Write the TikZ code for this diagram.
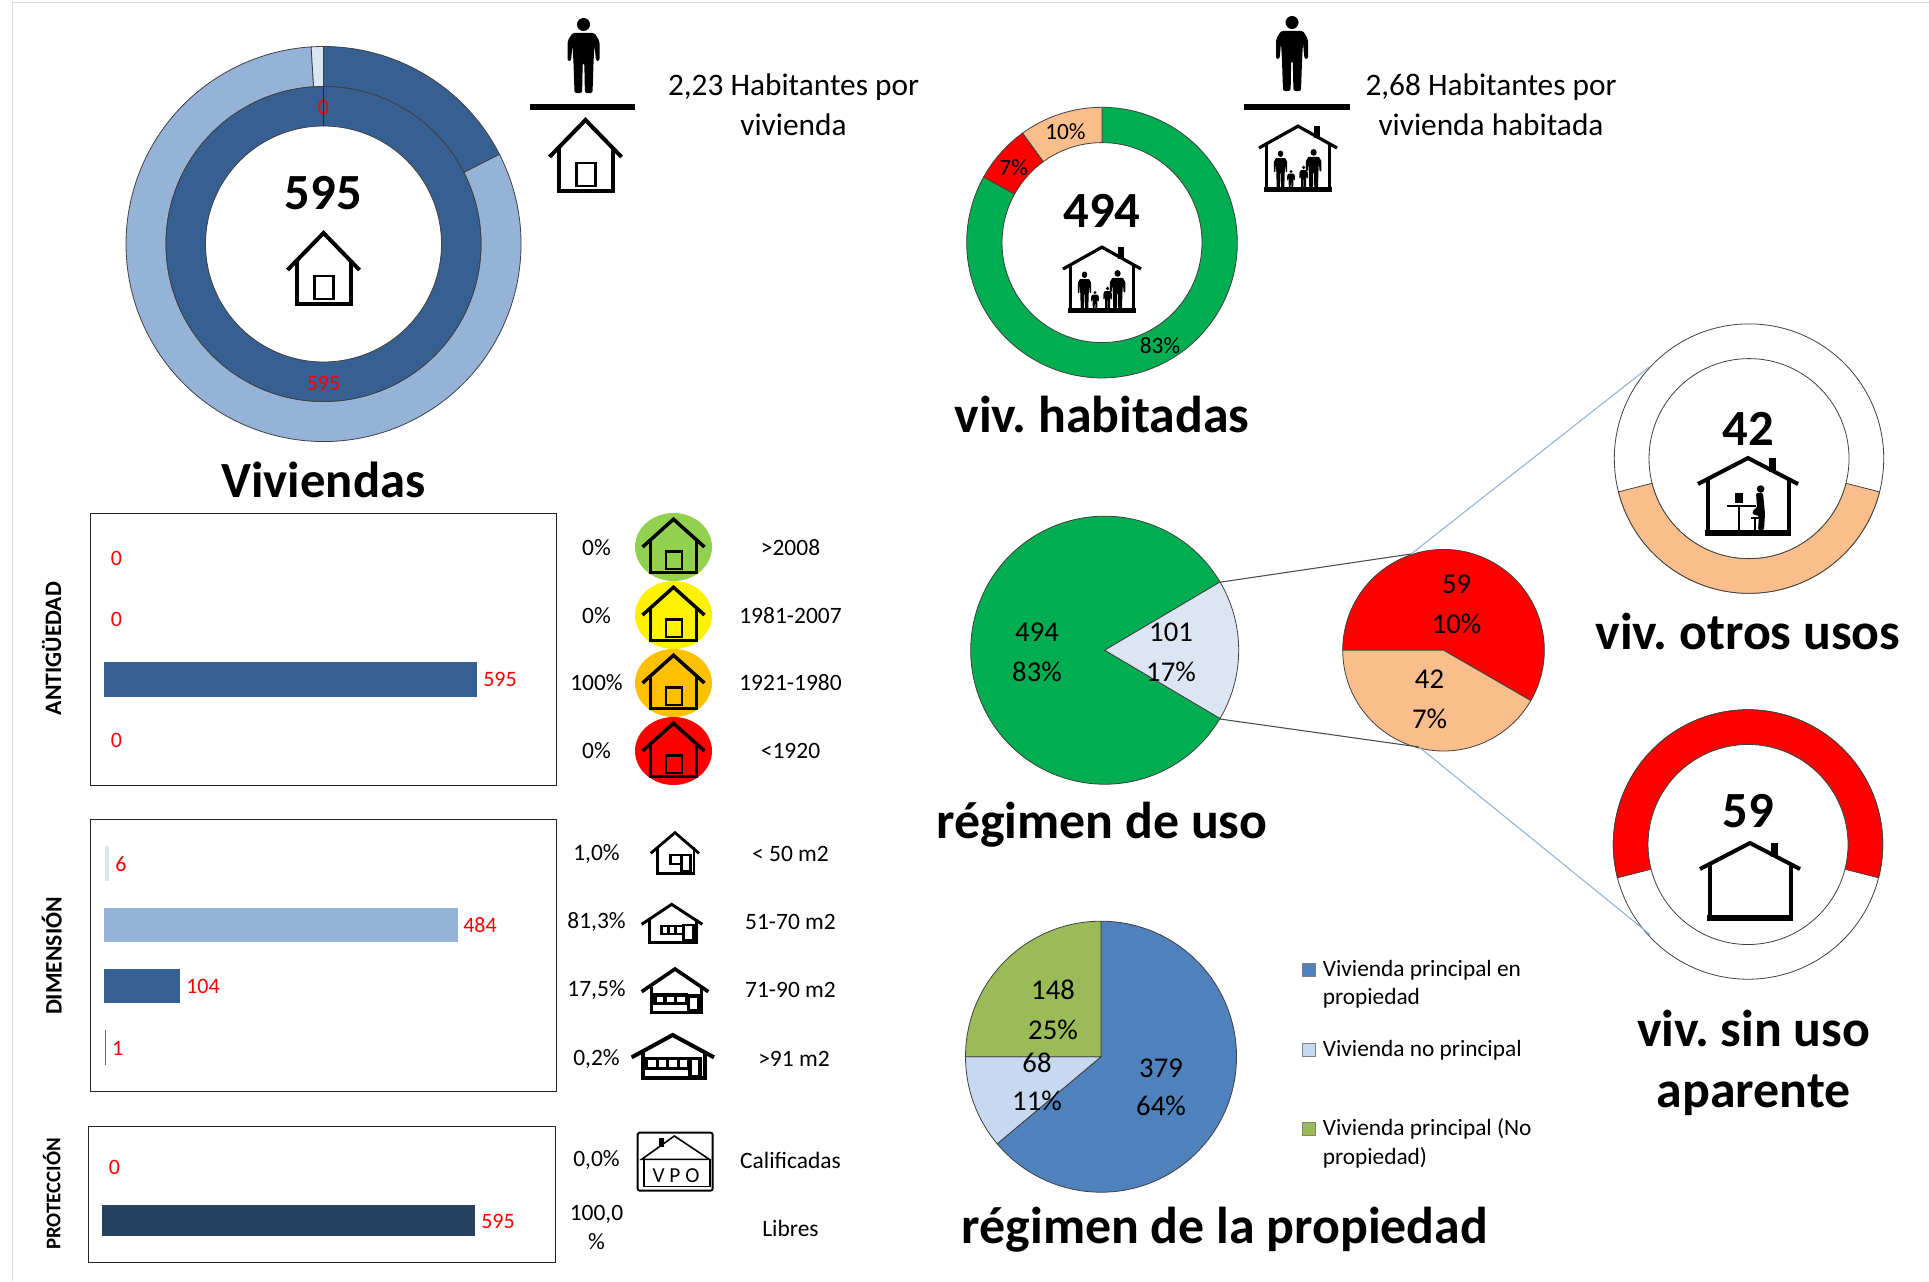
\documentclass[tikz,border=0pt]{standalone}
\usepackage{fontspec}
\setmainfont{Carlito}
\frenchspacing
\definecolor{darkblue}{HTML}{376092}
\definecolor{midblue}{HTML}{95B3D7}
\definecolor{paleblue}{HTML}{DCE6F2}
\definecolor{navybar}{HTML}{254061}
\definecolor{grassgreen}{HTML}{00AD50}
\definecolor{peach}{HTML}{F9BE8C}
\definecolor{ownblue}{HTML}{4F81BD}
\definecolor{ownpale}{HTML}{C6D9F1}
\definecolor{ownolive}{HTML}{9BBB59}
\definecolor{labelred}{HTML}{FF0000}
\definecolor{agegreen}{HTML}{92D050}
\definecolor{ageorange}{HTML}{FFC000}
\newcommand{\ringsector}[7]{%
  \path[ringedge,fill=#1] ([shift={(#6:#4)}]#2,#3) arc[start angle=#6,end angle=#7,radius=#4]
    -- ([shift={(#7:#5)}]#2,#3) arc[start angle=#7,end angle=#6,radius=#5] -- cycle;}
\newcommand{\pieslice}[6]{%
  \path[ringedge,fill=#1] (#2,#3) -- ([shift={(#5:#4)}]#2,#3) arc[start angle=#5,end angle=#6,radius=#4] -- cycle;}
\newcommand{\figureglyph}{%
  \fill (0,68.5) circle[radius=6.5];
  \fill[rounded corners=1.6pt] (-11,60) -- (11,60) -- (16,52) -- (16,32) -- (12.5,32) -- (11,48) -- (10,30) -- (9,0) -- (1.4,0) -- (0.8,30) -- (-0.8,30) -- (-1.4,0) -- (-9,0) -- (-10,30) -- (-11,48) -- (-12.5,32) -- (-16,32) -- (-16,52) -- cycle;}
\newcommand{\tinyfigure}[3]{%
  \begin{scope}[shift={(#1,-40)},xscale=#2,yscale=#3]
    \fill (0,68.5) circle[radius=6.5];
    \fill[rounded corners=0.5pt] (-11,60) -- (11,60) -- (16,52) -- (16,32) -- (12.5,32) -- (11,48) -- (10,30) -- (9,0) -- (1.4,0) -- (0.8,30) -- (-0.8,30) -- (-1.4,0) -- (-9,0) -- (-10,30) -- (-11,48) -- (-12.5,32) -- (-16,32) -- (-16,52) -- cycle;
  \end{scope}}
\newcommand{\familygroup}{%
  \tinyfigure{-17.5}{.42}{.5}
  \tinyfigure{-7}{.24}{.24}
  \tinyfigure{5.6}{.26}{.3}
  \tinyfigure{15.6}{.48}{.52}}
\tikzset{
  x=0.75pt,y=0.75pt,
  hlw/.store in=\hlw, hlw=3pt,
  ringedge/.style={draw=black!75,line width=0.6pt},
  headline/.style={font=\bfseries\fontsize{38}{44}\selectfont,inner sep=0pt},
  subhead/.style={font=\bfseries\fontsize{38.9}{46}\selectfont,inner sep=0pt},
  bodytext/.style={font=\fontsize{23.5}{28}\selectfont,inner sep=0pt},
  smalltext/.style={font=\fontsize{17.6}{21}\selectfont,inner sep=0pt},
  pielabel/.style={font=\fontsize{21.5}{25}\selectfont,inner sep=0pt},
  ringlabel/.style={font=\fontsize{17.5}{21}\selectfont,inner sep=0pt},
  redlabel/.style={font=\fontsize{16.5}{20}\selectfont,text=labelred,inner sep=0pt},
  sidelabel/.style={font=\bfseries\fontsize{17.7}{21}\selectfont,rotate=90,inner sep=0pt},
  legendtext/.style={font=\fontsize{17.5}{21}\selectfont,anchor=west,inner sep=0pt},
  panelbox/.style={draw=black!85,line width=0.6pt},
  legendbox/.style={draw=black!50,line width=0.4pt},
  plainhouse/.pic={
    \draw[line width=\hlw,line join=miter] (-36,0) -- (0,37) -- (36,0);
    \draw[line width=\hlw,line join=miter] (-27,9) -- (-27,-34) -- (27,-34) -- (27,9);
    \draw[line width=0.65*\hlw,line join=miter] (-9,-29) rectangle (10,-6);
  },
  shellhouse/.pic={
    \draw[line width=\hlw,line join=miter] (-50,0) -- (0,26) -- (50,0);
    \fill (21,12) rectangle (28,26);
    \draw[line width=\hlw] (-40.5,5) -- (-40.5,-51) (40.5,5) -- (40.5,-51);
    \fill (-43,-46) rectangle (43,-52);
  },
  singlefigure/.pic={\figureglyph},
  deskfigure/.pic={
    \draw[line width=1.2pt] (-21,-22) -- (8,-22) (-9,-22) -- (-9,-47);
    \fill (-13,-19) rectangle (-5,-9);
    \fill (12.6,-5) circle[radius=3.8];
    \fill[rounded corners=1pt] (8,-9) -- (15,-9) -- (17,-30) -- (16,-46) -- (10,-46) -- (11,-32) -- (4,-30) -- (6,-25) -- (9,-24) -- cycle;
    \draw[line width=1pt] (7,-34) -- (7,-47) (3,-34) -- (12,-34);
  },
}
\begin{document}
\begin{tikzpicture}
\useasboundingbox (0,0) rectangle (1929,-1281);
\fill[white] (0,0) rectangle (1929,-1281);
\draw[black!15,line width=1pt] (12.5,-1281) -- (12.5,-2.5) -- (1929,-2.5);

% Viviendas donut
\ringsector{darkblue}{323.5}{-244}{197.5}{157.5}{90}{27}
\ringsector{midblue}{323.5}{-244}{197.5}{157.5}{27}{-266.4}
\ringsector{paleblue}{323.5}{-244}{197.5}{157.5}{-266.4}{-270}
\ringsector{darkblue}{323.5}{-244}{157.5}{118}{90}{-270}
\node[redlabel] (vring0) at (323.5,-107) {0};
\draw[black!85,line width=0.8pt] (323.5,-86.5) -- (323.5,-126);
\node[redlabel] (vring595) at (323.5,-383) {595};
\node[headline] (vtotal) at (323.5,-193) {595};
\pic at (323.5,-270) {plainhouse};
\node[headline] (vtitle) at (323.5,-480) {Viviendas};

% ratio 1
\pic at (583.5,-93) {singlefigure};
\draw[line width=4.5pt] (530,-107) -- (635,-107);
\pic at (585.5,-157) {plainhouse};
\node[bodytext] (r1a) at (793.5,-87.5) {2,23 Habitantes por};
\node[bodytext] (r1b) at (793.5,-125) {vivienda};

% ratio 2
\pic at (1292,-91) {singlefigure};
\draw[line width=4.5pt] (1244,-107) -- (1350,-107);
\pic[xscale=.78,yscale=.84,hlw=2.4pt] at (1298,-148) {shellhouse};
\begin{scope}[shift={(1298,-148)}]\familygroup\end{scope}
\node[bodytext] (r2a) at (1491,-87.5) {2,68 Habitantes por};
\node[bodytext] (r2b) at (1491,-125) {vivienda habitada};

% habitadas donut
\ringsector{grassgreen}{1102}{-242.6}{135.3}{100}{151}{450}
\ringsector{peach}{1102}{-242.6}{135.3}{100}{90}{126}
\ringsector{labelred}{1102}{-242.6}{135.3}{100}{126}{151}
\node[ringlabel] (h10) at (1065.4,-131.6) {10\%};
\node[ringlabel] (h7) at (1013.7,-167.3) {7\%};
\node[ringlabel] (h83) at (1160,-345.7) {83\%};
\node[headline] (htotal) at (1102,-211) {494};
\pic[xscale=.78,yscale=.84,hlw=2.4pt] at (1102,-269) {shellhouse};
\begin{scope}[shift={(1102,-269)}]\familygroup\end{scope}
\node[subhead] (htitle) at (1102,-414) {viv. habitadas};

% connectors (drawn beneath pies)
\coordinate (useTop) at (1218.7,-582.4);
\coordinate (useBot) at (1220,-719);
\coordinate (subTop) at (1411,-554);
\coordinate (subBot) at (1419,-747);
\coordinate (otherEnd) at (1649,-367);
\coordinate (emptyEnd) at (1650,-934.5);

% uso pie
\pieslice{grassgreen}{1104.7}{-650.2}{134}{30.6}{329.4}
\pieslice{paleblue}{1104.7}{-650.2}{134}{-30.6}{30.6}
\node[pielabel] (u494) at (1037,-632.3) {494};
\node[pielabel] (u83) at (1037,-671.7) {83\%};
\node[pielabel] (u101) at (1171,-632.3) {101};
\node[pielabel] (u17) at (1171,-671.7) {17\%};
\node[subhead] (utitle) at (1102,-825) {régimen de uso};

% small pie
\pieslice{labelred}{1443.5}{-650.2}{100.8}{-30}{180}
\pieslice{peach}{1443.5}{-650.2}{100.8}{180}{330}
\node[pielabel] (s59) at (1456.6,-584.4) {59};
\node[pielabel] (s10) at (1456.6,-623.7) {10\%};
\node[pielabel] (s42) at (1429.5,-679) {42};
\node[pielabel] (s7) at (1429.5,-718.4) {7\%};

\draw[black!70,line width=0.8pt] (useTop) -- (subTop);
\draw[black!70,line width=0.8pt] (useBot) -- (subBot);

% otros usos ring
\draw[ringedge,fill=white] (1749,-458.6) circle[radius=134.7];
\ringsector{peach}{1749}{-458.6}{134.7}{100}{194.3}{345.7}
\draw[ringedge,fill=white] (1749,-458.6) circle[radius=100];
\node[headline] (ototal) at (1748,-428.5) {42};
\pic[hlw=3pt] at (1748,-484) {shellhouse};
\pic at (1748,-484) {deskfigure};
\node[subhead] (otitle) at (1748,-631.5) {viv. otros usos};

% sin uso ring
\draw[ringedge,fill=white] (1748,-844.5) circle[radius=134.7];
\ringsector{labelred}{1748}{-844.5}{134.7}{100}{-14.3}{194.3}
\draw[ringedge,fill=white] (1748,-844.5) circle[radius=100];
\node[headline] (etotal) at (1748.5,-811.5) {59};
\pic[hlw=3pt] at (1750,-869) {shellhouse};
\node[subhead] (etitlea) at (1753.6,-1028) {viv. sin uso};
\node[subhead] (etitleb) at (1753.6,-1095) {aparente};

\draw[midblue,line width=0.8pt] (subTop) -- (otherEnd);
\draw[midblue,line width=0.8pt] (subBot) -- (emptyEnd);

% propiedad pie
\pieslice{ownblue}{1101}{-1056.7}{135.5}{90}{-140}
\pieslice{ownpale}{1101}{-1056.7}{135.5}{180}{220}
\pieslice{ownolive}{1101}{-1056.7}{135.5}{90}{180}
\node[pielabel] (p148) at (1053,-990) {148};
\node[pielabel] (p25) at (1053,-1029.7) {25\%};
\node[pielabel] (p68) at (1037,-1063) {68};
\node[pielabel] (p11) at (1037,-1101) {11\%};
\node[pielabel] (p379) at (1161,-1068) {379};
\node[pielabel] (p64) at (1161,-1106) {64\%};
\node[subhead] (ptitle) at (1225,-1230) {régimen de la propiedad};

\draw[legendbox,fill=ownblue] (1302,-963) rectangle (1315,-976);
\draw[legendbox,fill=ownpale] (1302,-1043) rectangle (1315,-1056);
\draw[legendbox,fill=ownolive] (1302,-1122) rectangle (1315,-1135);
\node[legendtext] (l1a) at (1322.5,-970) {Vivienda principal en};
\node[legendtext] (l1b) at (1322.5,-998.5) {propiedad};
\node[legendtext] (l2a) at (1322.5,-1050) {Vivienda no principal};
\node[legendtext] (l3a) at (1322.5,-1129) {Vivienda principal (No};
\node[legendtext] (l3b) at (1322.5,-1157.5) {propiedad)};

% bar panels
\draw[panelbox] (90,-513) rectangle (556,-785);
\draw[panelbox] (90,-819) rectangle (556,-1091);
\draw[panelbox] (88,-1126) rectangle (555.7,-1262);
\fill[darkblue] (104,-662) rectangle (477,-697);
\fill[paleblue] (105,-846) rectangle (108.5,-881);
\fill[midblue] (104,-907.6) rectangle (457.5,-941.5);
\fill[darkblue] (104,-969) rectangle (180,-1003);
\fill[black!60] (104.5,-1029.6) rectangle (105.5,-1064.5);
\fill[navybar] (102,-1205) rectangle (475,-1235.5);
\node[redlabel] (b1) at (116.5,-558) {0};
\node[redlabel] (b2) at (116.5,-619.6) {0};
\node[redlabel] (b3) at (500,-679) {595};
\node[redlabel] (b4) at (116.5,-740) {0};
\node[redlabel] (b5) at (121,-864) {6};
\node[redlabel] (b6) at (480,-925) {484};
\node[redlabel] (b7) at (203,-986) {104};
\node[redlabel] (b8) at (117.7,-1048) {1};
\node[redlabel] (b9) at (114.5,-1167) {0};
\node[redlabel] (b10) at (498,-1221.5) {595};
\node[sidelabel] (sa) at (51.7,-648.5) {ANTIGÜEDAD};
\node[sidelabel] (sb) at (51.7,-956) {DIMENSIÓN};
\node[sidelabel,font=\bfseries\fontsize{15.6}{19}\selectfont] (sc) at (51.7,-1194) {PROTECCIÓN};

% percentages and ranges
\node[smalltext] (c1) at (596.5,-547.5) {0\%};
\node[smalltext] (c2) at (596.5,-615.6) {0\%};
\node[smalltext] (c3) at (596.5,-683) {100\%};
\node[smalltext] (c4) at (596.5,-751) {0\%};
\node[smalltext] (c5) at (596.5,-854) {1,0\%};
\node[smalltext] (c6) at (596.5,-922) {81,3\%};
\node[smalltext] (c7) at (596.5,-990) {17,5\%};
\node[smalltext] (c8) at (596.5,-1058.5) {0,2\%};
\node[smalltext] (c9) at (596.5,-1160) {0,0\%};
\node[smalltext] (c10) at (596.5,-1214.5) {100,0};
\node[smalltext] (c11) at (596.5,-1242) {\%};
\node[smalltext] (d1) at (790.5,-547.5) {>2008};
\node[smalltext] (d2) at (790.5,-615.6) {1981-2007};
\node[smalltext] (d3) at (790.5,-683) {1921-1980};
\node[smalltext] (d4) at (790.5,-751) {<1920};
\node[smalltext] (d5) at (790.5,-854) {< 50 m2};
\node[smalltext] (d6) at (790.5,-922) {51-70 m2};
\node[smalltext] (d7) at (790.5,-990) {71-90 m2};
\node[smalltext] (d8) at (794,-1058.5) {>91 m2};
\node[smalltext] (d9) at (790.5,-1160) {Calificadas};
\node[smalltext] (d10) at (790.5,-1228) {Libres};

% age circles
\fill[agegreen] (673.5,-547) ellipse[x radius=38.5,y radius=34];
\fill[yellow] (673.5,-615) ellipse[x radius=38.5,y radius=34];
\fill[ageorange] (673.5,-683) ellipse[x radius=38.5,y radius=34];
\fill[labelred] (673.5,-751) ellipse[x radius=38.5,y radius=34];
\pic[xscale=.86,yscale=.75,hlw=2.6pt] at (673.5,-547) {plainhouse};
\pic[xscale=.86,yscale=.75,hlw=2.6pt] at (673.5,-615) {plainhouse};
\pic[xscale=.86,yscale=.75,hlw=2.6pt] at (673.5,-683) {plainhouse};
\pic[xscale=.86,yscale=.75,hlw=2.6pt] at (673.5,-751) {plainhouse};

% size houses, drawn in crop coordinates
\begin{scope}[shift={(620,-810)},scale=.33333,line join=miter]
  \draw[line width=2.1pt] (92,-130) -- (165,-68) -- (237,-130);
  \draw[line width=1.9pt] (112,-112) -- (112,-190) -- (222,-190) -- (222,-112);
  \draw[line width=2.2pt] (152,-135) rectangle (185,-162) (185,-135) rectangle (212,-183);
  \draw[line width=2.2pt] (65,-343) -- (155,-283) -- (247,-343);
  \draw[line width=1.9pt] (88,-328) -- (88,-398) -- (230,-398) -- (230,-328);
  \draw[line width=2.2pt] (125,-348) rectangle (190,-372) (145,-348) -- (145,-372) (166,-348) -- (166,-372) (190,-345) rectangle (220,-392);
  \draw[line width=2.7pt] (65,-545) -- (165,-477) -- (265,-545);
  \draw[line width=2.4pt] (95,-530) -- (95,-608) -- (245,-608) -- (245,-530);
  \draw[line width=2.4pt] (105,-555) rectangle (200,-580) (135,-555) -- (135,-580) (167,-555) -- (167,-580) (205,-558) rectangle (235,-603);
  \draw[line width=3pt] (35,-742) -- (158,-675) -- (282,-742);
  \draw[line width=2.8pt] (68,-725) -- (68,-805) -- (255,-805) -- (255,-725);
  \draw[line width=2.4pt] (80,-745) rectangle (205,-775) (112,-745) -- (112,-775) (143,-745) -- (143,-775) (175,-745) -- (175,-775) (210,-745) rectangle (240,-800);
  % VPO sign
  \draw[line width=1.4pt,rounded corners=1.5pt] (53,-968) rectangle (278,-1142);
  \draw[line width=1.2pt] (65,-1048) -- (163,-978) -- (268,-1048) -- cycle;
  \fill (118,-985) rectangle (132,-1012);
  \draw[line width=0.9pt] (72,-1048) rectangle (270,-1130);
  \node[font=\fontsize{16}{19}\selectfont,inner sep=0pt] (vpo) at (168,-1097) {V P O};
\end{scope}
\end{tikzpicture}
\end{document}
